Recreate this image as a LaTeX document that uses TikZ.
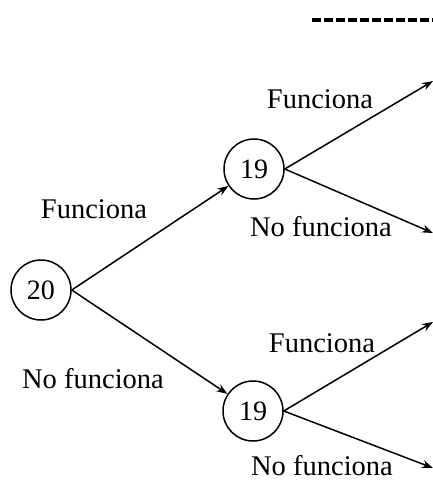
\documentclass[tikz,border=0pt]{standalone}
\usepackage{fontspec}
\setmainfont{Liberation Serif}
\usetikzlibrary{arrows.meta}
\begin{document}
\begin{tikzpicture}[x=1pt,y=-1pt,
  state/.style={circle,draw,line width=1.5pt,minimum size=60pt,inner sep=0pt,font=\fontsize{28}{32}\selectfont},
  lbl/.style={anchor=base,inner sep=0pt,font=\fontsize{28.5}{32}\selectfont},
  edge/.style={line width=1.5pt,-{Stealth[length=11pt,width=8pt]}}]
\useasboundingbox (0,0) rectangle (433,480);
\node[state] (n20) at (41,290) {20};
\node[state] (n19a) at (254,169) {19};
\node[state] (n19b) at (253,411) {19};
\coordinate (t1) at (433,81);
\coordinate (t2) at (433,233);
\coordinate (t3) at (433,322);
\coordinate (t4) at (433,468);
\coordinate (d1) at (312,20);
\coordinate (d2) at (433,20);
\draw[edge] (n20.east) -- (n19a);
\draw[edge] (n20.east) -- (n19b);
\draw[edge] (n19a.east) -- (t1);
\draw[edge] (n19a.east) -- (t2);
\draw[edge] (n19b.east) -- (t3);
\draw[edge] (n19b.east) -- (t4);
\draw[line width=3.5pt,dash pattern=on 9pt off 3pt] (d1) -- (d2);
\node[lbl] (l1) at (94,218) {Funciona};
\node[lbl] (l2) at (93,388) {No funciona};
\node[lbl] (l3) at (320,108) {Funciona};
\node[lbl] (l4) at (321,236) {No funciona};
\node[lbl] (l5) at (322,352) {Funciona};
\node[lbl] (l6) at (322,475) {No funciona};
\end{tikzpicture}
\end{document}
